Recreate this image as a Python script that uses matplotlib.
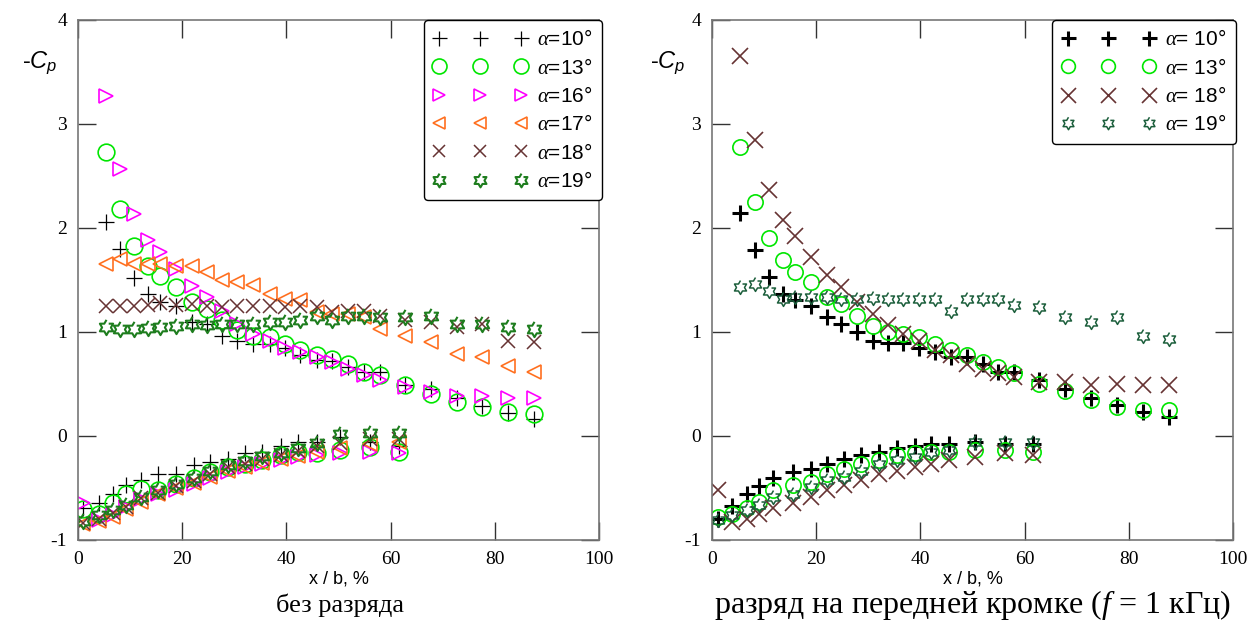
import numpy as np
import matplotlib
matplotlib.use('Agg')
import matplotlib.pyplot as plt

plt.rcParams['axes.unicode_minus'] = False
plt.rcParams['mathtext.fontset'] = 'custom'
plt.rcParams['mathtext.it'] = 'Liberation Sans:italic'
plt.rcParams['mathtext.rm'] = 'Liberation Sans'
plt.rcParams['mathtext.sf'] = 'Liberation Serif:italic'

# chordwise stations, x/b %
xu_left = [5.4, 8, 10.7, 13.5, 15.8, 18.8, 21.9, 24.7, 27.7, 30.6, 33.6, 36.8, 39.7,
           42.7, 45.8, 48.8, 51.9, 54.8, 57.9, 62.7, 67.8, 72.7, 77.6, 82.5, 87.5]
xl_left = [1, 4, 6.7, 9.3, 12, 15.4, 18.8, 22.2, 25.4, 28.7, 32.1, 35.3, 38.9, 42.3,
           45.8, 50.3, 56, 61.7]
xu_right = [5.4, 8.2, 10.9, 13.6, 15.9, 19, 22.1, 24.8, 27.8, 30.9, 33.8, 36.7, 39.8,
            42.8, 45.9, 49, 52.1, 54.8, 58, 62.8, 67.8, 72.8, 77.8, 82.7, 87.7]
xl_right = [1.2, 3.8, 6.7, 9, 11.7, 15.5, 19, 22.1, 25.4, 28.6, 32.1, 35.5, 39, 42.1,
            45.5, 50.5, 56.2, 61.7]

# left: no discharge, -Cp upper / lower surface
left_up = {
    10: [2.06, 1.80, 1.52, 1.37, 1.29, 1.25, 1.10, 1.08, 0.96, 0.91, 0.88, 0.88, 0.85,
         0.78, 0.73, 0.72, 0.66, 0.62, 0.62, 0.49, 0.45, 0.37, 0.29, 0.22, 0.16],
    13: [2.73, 2.18, 1.83, 1.63, 1.54, 1.43, 1.29, 1.22, 1.12, 1.02, 0.96, 0.95, 0.88,
         0.83, 0.78, 0.74, 0.69, 0.62, 0.59, 0.49, 0.40, 0.33, 0.28, 0.23, 0.21],
    16: [3.27, 2.57, 2.13, 1.88, 1.77, 1.61, 1.44, 1.34, 1.20, 1.08, 0.98, 0.91, 0.85,
         0.81, 0.76, 0.71, 0.64, 0.59, 0.54, 0.47, 0.42, 0.38, 0.38, 0.37, 0.37],
    17: [1.65, 1.70, 1.65, 1.65, 1.65, 1.63, 1.63, 1.58, 1.50, 1.48, 1.45, 1.37, 1.32,
         1.31, 1.19, 1.17, 1.17, 1.14, 1.03, 0.96, 0.90, 0.79, 0.76, 0.67, 0.62],
    18: [1.25, 1.25, 1.25, 1.26, 1.28, 1.26, 1.27, 1.25, 1.24, 1.25, 1.25, 1.25, 1.24,
         1.25, 1.24, 1.19, 1.20, 1.20, 1.15, 1.12, 1.10, 1.05, 1.08, 0.91, 0.90],
    19: [1.05, 1.03, 1.03, 1.04, 1.05, 1.06, 1.08, 1.07, 1.08, 1.08, 1.08, 1.10, 1.10,
         1.12, 1.15, 1.12, 1.15, 1.15, 1.14, 1.14, 1.15, 1.08, 1.08, 1.05, 1.03],
}
left_lo = {
    10: [-0.69, -0.64, -0.56, -0.47, -0.42, -0.37, -0.37, -0.28, -0.25, -0.22, -0.16,
         -0.15, -0.10, -0.06, -0.06, -0.01, -0.06, -0.10],
    13: [-0.70, -0.75, -0.64, -0.56, -0.51, -0.52, -0.46, -0.40, -0.35, -0.30, -0.27,
         -0.23, -0.18, -0.15, -0.16, -0.13, -0.11, -0.15],
    16: [-0.64, -0.81, -0.76, -0.68, -0.61, -0.56, -0.52, -0.46, -0.40, -0.35, -0.30,
         -0.27, -0.23, -0.20, -0.18, -0.16, -0.15, -0.16],
    17: [-0.85, -0.82, -0.78, -0.70, -0.63, -0.56, -0.50, -0.45, -0.39, -0.34, -0.30,
         -0.26, -0.22, -0.19, -0.15, -0.12, -0.08, -0.06],
    18: [-0.84, -0.80, -0.74, -0.68, -0.60, -0.55, -0.48, -0.43, -0.37, -0.30, -0.27,
         -0.22, -0.18, -0.14, -0.10, -0.07, -0.03, -0.03],
    19: [-0.82, -0.76, -0.71, -0.66, -0.59, -0.52, -0.46, -0.40, -0.34, -0.28, -0.24,
         -0.19, -0.16, -0.12, -0.07, 0.02, 0.03, 0.03],
}

# right: discharge at leading edge, f = 1 kHz
right_up = {
    10: [2.14, 1.79, 1.53, 1.37, 1.31, 1.25, 1.14, 1.08, 1.00, 0.91, 0.89, 0.89, 0.85,
         0.81, 0.76, 0.76, 0.69, 0.62, 0.62, 0.54, 0.45, 0.37, 0.30, 0.23, 0.18],
    13: [2.78, 2.25, 1.90, 1.69, 1.58, 1.48, 1.34, 1.27, 1.15, 1.06, 1.00, 0.98, 0.95,
         0.88, 0.83, 0.78, 0.71, 0.66, 0.61, 0.50, 0.43, 0.35, 0.28, 0.25, 0.25],
    18: [3.65, 2.85, 2.37, 2.08, 1.92, 1.72, 1.55, 1.43, 1.29, 1.17, 1.07, 0.98, 0.91,
         0.83, 0.78, 0.69, 0.64, 0.61, 0.57, 0.52, 0.52, 0.49, 0.50, 0.49, 0.49],
    19: [1.43, 1.46, 1.39, 1.32, 1.34, 1.34, 1.34, 1.32, 1.32, 1.33, 1.32, 1.32, 1.32,
         1.32, 1.20, 1.32, 1.32, 1.32, 1.26, 1.24, 1.14, 1.10, 1.14, 0.96, 0.93],
}
right_lo = {
    10: [-0.80, -0.67, -0.56, -0.48, -0.40, -0.35, -0.32, -0.27, -0.22, -0.18, -0.15,
         -0.12, -0.10, -0.08, -0.08, -0.06, -0.08, -0.08],
    13: [-0.78, -0.75, -0.69, -0.63, -0.52, -0.47, -0.44, -0.37, -0.32, -0.27, -0.23,
         -0.18, -0.16, -0.15, -0.15, -0.13, -0.13, -0.15],
    18: [-0.52, -0.83, -0.80, -0.75, -0.69, -0.64, -0.59, -0.52, -0.47, -0.42, -0.37,
         -0.34, -0.30, -0.27, -0.23, -0.20, -0.16, -0.18],
    19: [-0.81, -0.76, -0.71, -0.66, -0.59, -0.56, -0.49, -0.42, -0.39, -0.34, -0.27,
         -0.23, -0.20, -0.15, -0.13, -0.06, -0.06, -0.06],
}

# six-pointed star marker
ang = np.pi / 2 + np.arange(12) * np.pi / 6
rad = np.where(np.arange(12) % 2 == 0, 1.0, 1 / np.sqrt(3))
hexagram = np.column_stack([rad * np.cos(ang), rad * np.sin(ang)])

# alpha: (marker, color, size, edge width)
left_style = {
    10: ('+', 'black', 12, 0.9),
    13: ('o', '#00e600', 12, 1.2),
    16: ('>', '#ff00ff', 10, 1.2),
    17: ('<', '#ff7020', 10, 1.2),
    18: ('x', '#663333', 10, 1.1),
    19: (hexagram, '#1e7d1e', 11, 1.5),
}
right_style = {
    10: ('+', 'black', 12, 2.2),
    13: ('o', '#00e600', 11, 1.2),
    18: ('x', '#663333', 12, 1.2),
    19: (hexagram, '#1b5e3b', 10, 1.1),
}

fig = plt.figure(figsize=(12.49, 6.35), dpi=100)
ax1 = fig.add_axes([78 / 1249, 1 - 540 / 635, 521 / 1249, 520 / 635])
ax2 = fig.add_axes([712 / 1249, 1 - 540 / 635, 521 / 1249, 520 / 635])


def draw(ax, xu, xl, up, lo, style, labfmt):
    for a in up:
        m, c, ms, mew = style[a]
        ax.plot(xu + xl, up[a] + lo[a], linestyle='none', marker=m, ms=ms, mew=mew,
                mec=c, mfc='none', color=c, label=labfmt % a)
    ax.set_xlim(0, 100)
    ax.set_ylim(-1, 4)
    ax.set_xticks([0, 20, 40, 60, 80, 100])
    ax.set_yticks([-1, 0, 1, 2, 3, 4])
    ax.tick_params(direction='in', length=13, width=1, top=True, right=True,
                   pad=8, labelsize=14, color='#333333')
    for lab in ax.get_xticklabels() + ax.get_yticklabels():
        lab.set_fontfamily('Liberation Serif')
    for s in ax.spines.values():
        s.set_color('#777777')
        s.set_linewidth(1.2)
    ax.set_xlabel('x / b, %', fontsize=13, family='Liberation Sans', labelpad=2)
    leg = ax.legend(loc='upper right', bbox_to_anchor=(1.006, 1.0), borderaxespad=0,
                    numpoints=3, handlelength=4.5, handletextpad=0.5, labelspacing=0.4,
                    borderpad=0.45, fancybox=True, framealpha=1, markerscale=0.9,
                    prop={'family': 'Liberation Sans', 'size': 15})
    leg.get_frame().set_edgecolor('black')
    leg.get_frame().set_linewidth(1.0)


draw(ax1, xu_left, xl_left, left_up, left_lo, left_style, '$\\mathsf{\\alpha}$=%d°')
draw(ax2, xu_right, xl_right, right_up, right_lo, right_style, '$\\mathsf{\\alpha}$= %d°')

fig.text(40 / 1249, 1 - 63 / 635, '-$C_p$', fontsize=17, family='Liberation Sans',
         ha='center', va='center')
fig.text(668 / 1249, 1 - 63 / 635, '-$C_p$', fontsize=17, family='Liberation Sans',
         ha='center', va='center')

fig.text(340 / 1249, 1 - 605 / 635, 'без разряда', fontsize=19,
         family='Liberation Serif', ha='center', va='center')
fig.text(972 / 1249, 1 - 605 / 635, 'разряд на передней кромке ($\\mathsf{f}$ = 1 кГц)',
         fontsize=23, family='Liberation Serif', ha='center', va='center')

fig.savefig('out.png', dpi=100)
